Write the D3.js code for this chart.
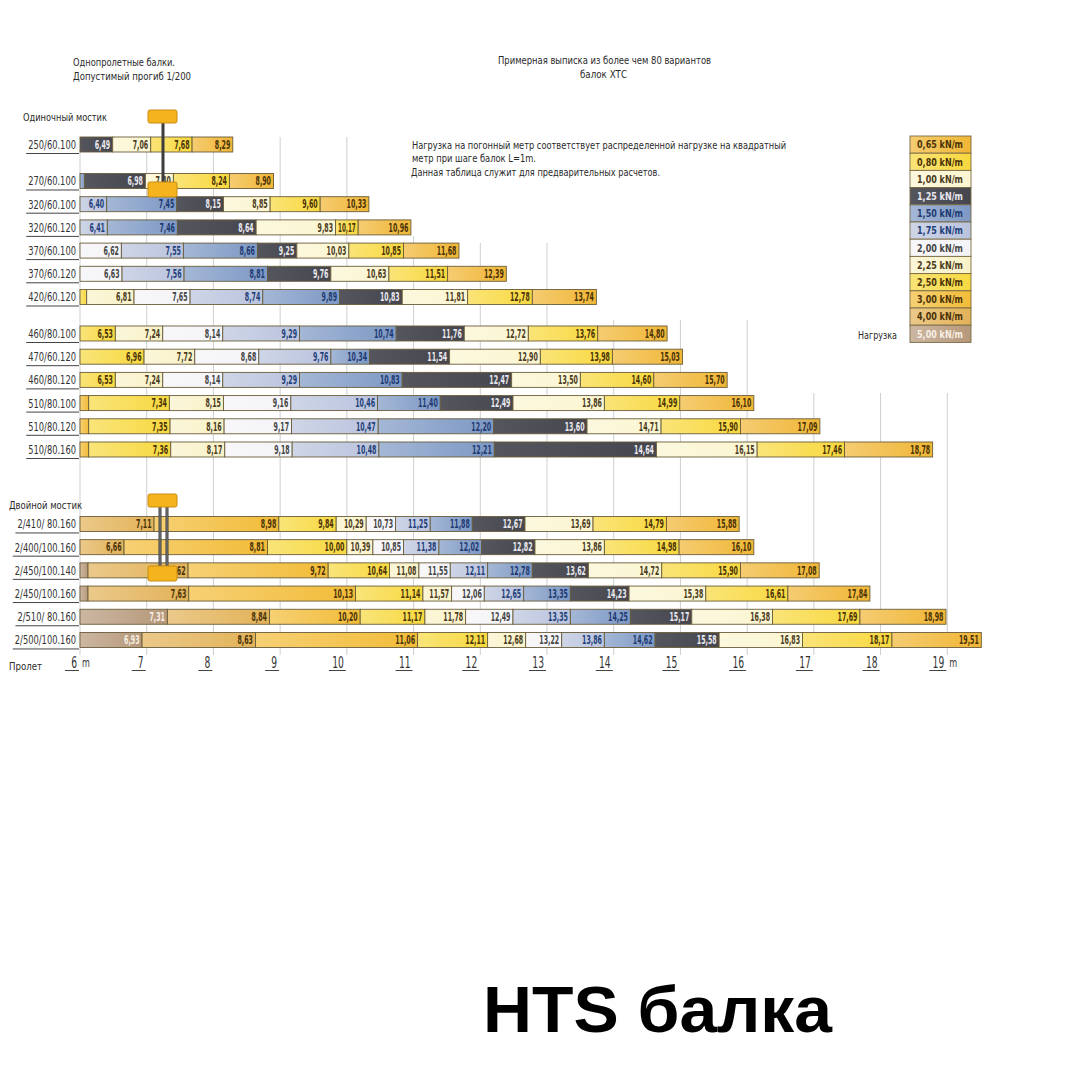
<!DOCTYPE html>
<html><head><meta charset="utf-8">
<script src="https://cdn.jsdelivr.net/npm/d3@7"></script>
<style>
html,body{margin:0;padding:0;background:#fff;}
svg{display:block;}
</style></head>
<body>
<svg id="chart" width="1080" height="1080"></svg>
<script>
// ---------------- DATA ----------------
const rowNames = [
  "250/60.100","270/60.100","320/60.100","320/60.120","370/60.100","370/60.120","420/60.120",
  "460/80.100","470/60.120","460/80.120","510/80.100","510/80.120","510/80.160",
  "2/410/ 80.160","2/400/100.160","2/450/100.140","2/450/100.160","2/510/ 80.160","2/500/100.160"
];
// span (m) at which each load ends, left to right; the last value belongs to 0,65 kN/m
const rowSpans = [
  [6.49, 7.06, 7.68, 8.29],
  [6.07, 6.98, 7.40, 8.24, 8.90],
  [6.40, 7.45, 8.15, 8.85, 9.60, 10.33],
  [6.41, 7.46, 8.64, 9.83, 10.17, 10.96],
  [6.62, 7.55, 8.66, 9.25, 10.03, 10.85, 11.68],
  [6.63, 7.56, 8.81, 9.76, 10.63, 11.51, 12.39],
  [6.10, 6.81, 7.65, 8.74, 9.89, 10.83, 11.81, 12.78, 13.74],
  [6.53, 7.24, 8.14, 9.29, 10.74, 11.76, 12.72, 13.76, 14.80],
  [6.96, 7.72, 8.68, 9.76, 10.34, 11.54, 12.90, 13.98, 15.03],
  [6.53, 7.24, 8.14, 9.29, 10.83, 12.47, 13.50, 14.60, 15.70],
  [6.13, 7.34, 8.15, 9.16, 10.46, 11.40, 12.49, 13.86, 14.99, 16.10],
  [6.13, 7.35, 8.16, 9.17, 10.47, 12.20, 13.60, 14.71, 15.90, 17.09],
  [6.13, 7.36, 8.17, 9.18, 10.48, 12.21, 14.64, 16.15, 17.46, 18.78],
  [7.11, 8.98, 9.84, 10.29, 10.73, 11.25, 11.88, 12.67, 13.69, 14.79, 15.88],
  [6.66, 8.81, 10.00, 10.39, 10.85, 11.38, 12.02, 12.82, 13.86, 14.98, 16.10],
  [6.12, 7.62, 9.72, 10.64, 11.08, 11.55, 12.11, 12.78, 13.62, 14.72, 15.90, 17.08],
  [6.12, 7.63, 10.13, 11.14, 11.57, 12.06, 12.65, 13.35, 14.23, 15.38, 16.61, 17.84],
  [7.31, 8.84, 10.20, 11.17, 11.78, 12.49, 13.35, 14.25, 15.17, 16.38, 17.69, 18.98],
  [6.93, 8.63, 11.06, 12.11, 12.68, 13.22, 13.86, 14.62, 15.58, 16.83, 18.17, 19.51]
];
const loadLevels = [0.65, 0.80, 1.00, 1.25, 1.50, 1.75, 2.00, 2.25, 2.50, 3.00, 4.00, 5.00];
const legendLabels = ["0,65 kN/m","0,80 kN/m","1,00 kN/m","1,25 kN/m","1,50 kN/m","1,75 kN/m",
                      "2,00 kN/m","2,25 kN/m","2,50 kN/m","3,00 kN/m","4,00 kN/m","5,00 kN/m"];
const spanTicks = [6,7,8,9,10,11,12,13,14,15,16,17,18,19];
const groupTitles = ["Одиночный мостик", "Двойной мостик"];
const headerLeft = ["Однопролетные балки.", "Допустимый прогиб 1/200"];
const headerCenter = ["Примерная выписка из более чем 80 вариантов", "балок ХТС"];
const noteLines = ["Нагрузка на погонный метр соответствует распределенной нагрузке на квадратный",
                   "метр при шаге балок L=1m.",
                   "Данная таблица служит для предварительных расчетов."];
const axisTitle = "Пролет";
const legendTitle = "Нагрузка";
const bigTitle = "HTS балка";

// ---------------- STYLE / LAYOUT ----------------
const loadColors = ["#f0b635","#f8d83e","#fbf5d0","#46464f","#7d98c4","#b9c3dd",
                    "#f4f4f8","#f9f2c8","#f7d940","#f2bc38","#e2b258","#b6987a"];
const labelColors = ["#4a3208","#4a3208","#4a3a20","#e9e9ef","#1e3a72","#23407a",
                     "#444444","#4a3a20","#4a3208","#4a3208","#4a3208","#f7efe4"];
const NARROW = "'Liberation Sans Narrow','Arial Narrow','DejaVu Sans Condensed',sans-serif";
const SANS = "'Liberation Sans',Arial,sans-serif";

const svg = d3.select("#chart");
const x = d3.scaleLinear().domain([6, 19]).range([80, 947.3]);
const slotOf = i => i + (i >= 1 ? 0.573 : 0) + (i >= 7 ? 0.573 : 0) + (i >= 13 ? 2.21 : 0);
const y = d3.scaleLinear().domain([0, 1]).range([144.5, 167.7]);
const barH = 15;

// squeeze text horizontally (condensed look regardless of installed font)
function squeeze(sel, factor, maxW) {
  sel.each(function (d) {
    let w = this.getComputedTextLength() * factor;
    const lim = typeof maxW === "function" ? maxW(d) : maxW;
    if (lim && w > lim) w = lim;
    d3.select(this).attr("textLength", w).attr("lengthAdjust", "spacingAndGlyphs");
  });
  return sel;
}

// gradients
const defs = svg.append("defs");
loadColors.forEach((c, i) => {
  const g = defs.append("linearGradient").attr("id", "g" + i).attr("x1", "0").attr("x2", "1").attr("y1", "0").attr("y2", "0");
  g.append("stop").attr("offset", "0%").attr("stop-color", d3.interpolateRgb(c, "#ffffff")(i === 3 ? 0.08 : 0.3));
  g.append("stop").attr("offset", "100%").attr("stop-color", c);
});

// ---------------- GRID ----------------
const gridTop = {6: 150, 7: 137, 8: 137, 9: 137, 10: 137, 11: 236, 12: 243, 13: 243, 14: 320, 15: 320, 16: 320, 17: 393, 18: 393, 19: 393};
svg.append("g").selectAll("line").data(spanTicks).join("line")
  .attr("x1", d => x(d)).attr("x2", d => x(d))
  .attr("y1", d => gridTop[d]).attr("y2", 655)
  .attr("stroke", "#cfcfcf").attr("stroke-width", 1);

// ---------------- HEADER TEXTS ----------------
function txt(s, xx, yy, opts = {}) {
  const t = svg.append("text").attr("x", xx).attr("y", yy).text(s)
    .attr("font-family", opts.family || NARROW)
    .attr("font-size", opts.size || 11)
    .attr("font-weight", opts.weight || "normal")
    .attr("fill", opts.fill || "#2a2a2a")
    .attr("text-anchor", opts.anchor || "start");
  if (opts.len) t.attr("textLength", opts.len).attr("lengthAdjust", "spacingAndGlyphs");
  return t;
}
txt(headerLeft[0], 73, 66, {len: 102});
txt(headerLeft[1], 73, 80, {len: 118});
txt(headerCenter[0], 498, 64, {len: 213});
txt(headerCenter[1], 580, 78, {len: 47});
txt(noteLines[0], 412, 149, {len: 374});
txt(noteLines[1], 412, 162, {len: 124});
txt(noteLines[2], 411, 176, {len: 249});
txt(groupTitles[0], 23, 121, {len: 84});
txt(groupTitles[1], 9, 509, {len: 73});
txt(axisTitle, 9, 670, {len: 33});
txt(legendTitle, 858, 339, {len: 39});

// ---------------- ROWS ----------------
const fmt = v => d3.format(".2f")(v).replace(".", ",");
rowNames.forEach((name, ri) => {
  const cy = y(slotOf(ri));
  const vals = rowSpans[ri];
  const n = vals.length;
  const segs = vals.map((v, i) => ({start: i === 0 ? 6 : vals[i - 1], end: v, load: n - 1 - i}));
  const g = svg.append("g");
  g.selectAll("rect").data(segs).join("rect")
    .attr("x", d => x(d.start)).attr("width", d => x(d.end) - x(d.start))
    .attr("y", cy - barH / 2).attr("height", barH)
    .attr("fill", d => `url(#g${d.load})`)
    .attr("stroke", "#6a5d3a").attr("stroke-width", 0.9);
  const labs = g.selectAll("text").data(segs.filter(d => x(d.end) - x(d.start) > 15)).join("text")
    .attr("x", d => x(d.end) - 2.5).attr("y", cy + 4.3)
    .attr("text-anchor", "end")
    .attr("font-family", NARROW).attr("font-weight", "bold").attr("font-size", 12)
    .attr("fill", d => labelColors[d.load])
    .text(d => fmt(d.end));
  squeeze(labs, 0.58, d => x(d.end) - x(d.start) - 5);
  const lab = svg.append("text").attr("x", 76).attr("y", cy + 4.5)
    .attr("text-anchor", "end").attr("font-family", NARROW).attr("font-size", 12.5)
    .attr("fill", "#333").text(name);
  squeeze(lab, 0.74);
  const w = +lab.attr("textLength");
  svg.append("line").attr("x1", 76 - w - 2).attr("x2", 79)
    .attr("y1", cy + barH / 2 + 1.5).attr("y2", cy + barH / 2 + 1.5)
    .attr("stroke", "#444").attr("stroke-width", 1);
});

// ---------------- AXIS LABELS ----------------
const axisY = 668;
spanTicks.forEach(t => {
  const xx = x(t);
  const tt = svg.append("text").attr("x", xx - 3).attr("y", axisY)
    .attr("text-anchor", "end").attr("font-family", NARROW).attr("font-size", 15)
    .attr("fill", "#333").text(t);
  squeeze(tt, 0.68);
  svg.append("line").attr("x1", xx - (t >= 10 ? 18 : 15)).attr("x2", xx - 1)
    .attr("y1", axisY + 2.5).attr("y2", axisY + 2.5).attr("stroke", "#444").attr("stroke-width", 1);
  if (t === 6 || t === 19) {
    const m = svg.append("text").attr("x", xx + 2).attr("y", axisY - 1)
      .attr("font-family", NARROW).attr("font-size", 12).attr("fill", "#333").text("m");
    squeeze(m, 0.75);
  }
});

// ---------------- LEGEND ----------------
const lx = 910, ly = 136, lw = 61, lh = 17.2;
const lg = svg.append("g");
lg.selectAll("rect").data(loadLevels).join("rect")
  .attr("x", lx).attr("y", (d, i) => ly + i * lh).attr("width", lw).attr("height", lh)
  .attr("fill", (d, i) => `url(#g${i})`).attr("stroke", "#7a6a44").attr("stroke-width", 0.9);
lg.selectAll("text").data(legendLabels).join("text")
  .attr("x", lx + 7).attr("y", (d, i) => ly + i * lh + 12.3)
  .attr("font-family", NARROW).attr("font-weight", "bold").attr("font-size", 11)
  .attr("fill", (d, i) => labelColors[i])
  .attr("textLength", 46).attr("lengthAdjust", "spacingAndGlyphs")
  .text(d => d);

// ---------------- BRIDGE ICONS ----------------
function plate(xx, yy, w, h) {
  svg.append("rect").attr("x", xx).attr("y", yy).attr("width", w).attr("height", h)
    .attr("rx", 2).attr("fill", "#f5b31e").attr("stroke", "#c98c12").attr("stroke-width", 1);
}
svg.append("line").attr("x1", 163).attr("x2", 163).attr("y1", 122).attr("y2", 184)
  .attr("stroke", "#3c3c3c").attr("stroke-width", 3);
plate(148, 110, 29, 13);
plate(148, 182, 29, 15);
[160, 167].forEach(lxx => {
  svg.append("line").attr("x1", lxx).attr("x2", lxx).attr("y1", 506).attr("y2", 567)
    .attr("stroke", "#3c3c3c").attr("stroke-width", 3);
  svg.append("line").attr("x1", lxx).attr("x2", lxx).attr("y1", 506).attr("y2", 567)
    .attr("stroke", "#9a9a9a").attr("stroke-width", 0.8);
});
plate(148, 494, 29, 13);
plate(148, 566, 29, 15);

// ---------------- BIG TITLE ----------------
svg.append("text").attr("x", 483).attr("y", 1032)
  .attr("font-family", SANS).attr("font-weight", "bold").attr("font-size", 65)
  .attr("fill", "#000").attr("textLength", 349).attr("lengthAdjust", "spacingAndGlyphs")
  .text(bigTitle);
</script>
</body></html>
